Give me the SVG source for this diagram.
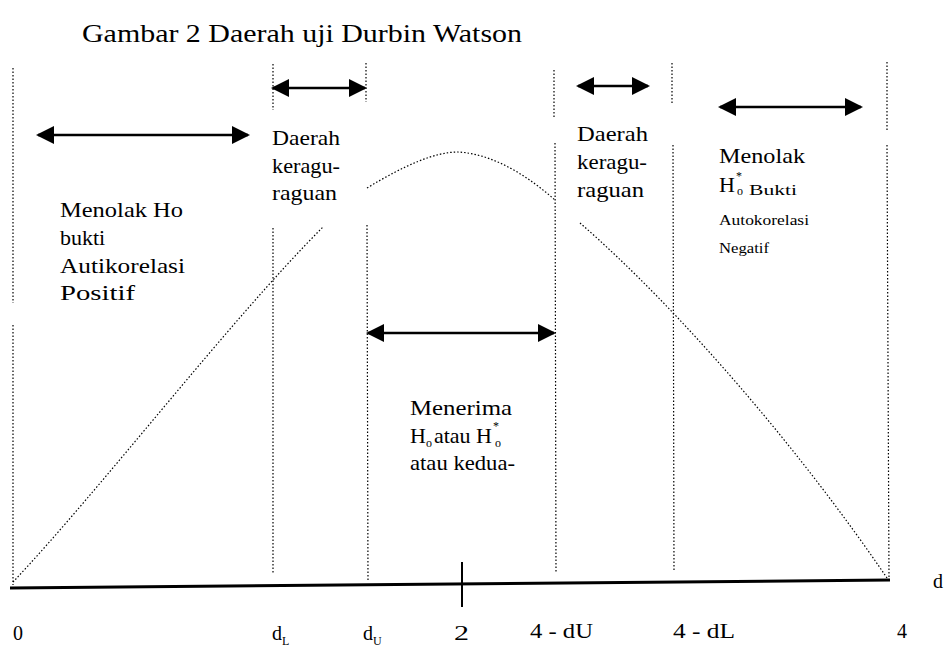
<svg xmlns="http://www.w3.org/2000/svg" width="945" height="647" viewBox="0 0 945 647" font-family="'Liberation Serif', 'DejaVu Serif', serif">
<style>
text{font-family:'Liberation Serif','DejaVu Serif',serif;fill:#000;font-size:22px}
.s{font-size:14px}
.sub{font-size:12px}
.ttl{font-size:26px}
.ax{font-size:20px}
.dot{fill:none;stroke:#000;stroke-width:1.2;stroke-dasharray:1.5 2}
.arr{stroke:#000;stroke-width:2.5;marker-start:url(#ah);marker-end:url(#ah)}
</style>
<defs>
<marker id="ah" viewBox="0 0 18 18" refX="16" refY="9" markerWidth="18" markerHeight="18" markerUnits="userSpaceOnUse" orient="auto-start-reverse">
<path d="M0,0 L18,9 L0,18 Z" fill="#000"/>
</marker>
</defs>
<rect width="945" height="647" fill="#fff"/>
<text id="title" class="ttl" x="82" y="42" textLength="440" lengthAdjust="spacingAndGlyphs">Gambar 2  Daerah uji Durbin Watson</text>

<g id="guides">
<line class="dot" x1="13" y1="68" x2="13" y2="303"/>
<line class="dot" x1="13" y1="325" x2="13" y2="585"/>
<line class="dot" x1="273" y1="64" x2="273" y2="110"/>
<line class="dot" x1="273" y1="228" x2="273" y2="574"/>
<line class="dot" x1="366" y1="63" x2="366" y2="102"/>
<line class="dot" x1="367" y1="225" x2="368" y2="582"/>
<line class="dot" x1="554" y1="70" x2="554" y2="117"/>
<line class="dot" x1="555" y1="143" x2="556" y2="573"/>
<line class="dot" x1="672" y1="63" x2="672" y2="105"/>
<line class="dot" x1="673" y1="145" x2="674" y2="572"/>
<line class="dot" x1="887" y1="62" x2="887" y2="130"/>
<line class="dot" x1="887" y1="145" x2="889" y2="578"/>
</g>

<g id="curve">
<path class="dot" d="M13,582 C100,490 230,320 323,227"/>
<path class="dot" d="M367,188 C405,165 435,152 458,152 C495,154 530,178 555,200"/>
<path class="dot" d="M580,223 C680,310 800,450 887,578"/>
</g>

<g id="axis">
<path d="M10,588 L890,580" stroke="#000" stroke-width="3" fill="none"/>
<line x1="462" y1="562" x2="462" y2="607" stroke="#000" stroke-width="2"/>
</g>

<g id="connectors">
<line class="arr" x1="38" y1="135" x2="248" y2="135"/>
<line class="arr" x1="273" y1="88" x2="365" y2="88"/>
<line class="arr" x1="578" y1="86" x2="648" y2="86"/>
<line class="arr" x1="720" y1="107" x2="861" y2="107"/>
<line class="arr" x1="368" y1="333" x2="554" y2="333"/>
</g>

<g id="reject-positive">
<text x="60" y="217" textLength="123" lengthAdjust="spacingAndGlyphs">Menolak Ho</text>
<text x="60" y="245">bukti</text>
<text x="60" y="273" textLength="125" lengthAdjust="spacingAndGlyphs">Autikorelasi</text>
<text x="60" y="300" textLength="75" lengthAdjust="spacingAndGlyphs">Positif</text>
</g>

<g id="doubt-left">
<text x="272" y="145" textLength="68" lengthAdjust="spacingAndGlyphs">Daerah</text>
<text x="272" y="173" textLength="68" lengthAdjust="spacingAndGlyphs">keragu-</text>
<text x="272" y="200" textLength="65" lengthAdjust="spacingAndGlyphs">raguan</text>
</g>

<g id="doubt-right">
<text x="577" y="141" textLength="71" lengthAdjust="spacingAndGlyphs">Daerah</text>
<text x="577" y="169" textLength="70" lengthAdjust="spacingAndGlyphs">keragu-</text>
<text x="577" y="197" textLength="67" lengthAdjust="spacingAndGlyphs">raguan</text>
</g>

<g id="accept">
<text x="410" y="415" textLength="102" lengthAdjust="spacingAndGlyphs">Menerima</text>
<text x="410" y="443">H<tspan font-size="12" dy="4">o</tspan><tspan dy="-4" dx="2">atau H</tspan><tspan font-size="12" dy="-13" dx="1">*</tspan><tspan font-size="12" dy="17" dx="-4">o</tspan></text>
<text x="410" y="470" textLength="105" lengthAdjust="spacingAndGlyphs">atau kedua-</text>
</g>

<g id="reject-negative">
<text x="719" y="163" textLength="86" lengthAdjust="spacingAndGlyphs">Menolak</text>
<text x="719" y="192">H<tspan font-size="12" dy="-12" dx="1">*</tspan><tspan font-size="12" dy="15" dx="-5">o</tspan></text>
<text class="s" x="749" y="195" textLength="48" lengthAdjust="spacingAndGlyphs">Bukti</text>
<text class="s" x="719" y="225" textLength="90" lengthAdjust="spacingAndGlyphs">Autokorelasi</text>
<text class="s" x="719" y="253" textLength="50" lengthAdjust="spacingAndGlyphs">Negatif</text>
</g>

<g id="axis-labels">
<text class="ax" x="13" y="640">0</text>
<text class="ax" x="272" y="640">d<tspan font-size="12" dy="5">L</tspan></text>
<text class="ax" x="363" y="640">d<tspan font-size="12" dy="5">U</tspan></text>
<text class="ax" x="454" y="640" textLength="15" lengthAdjust="spacingAndGlyphs">2</text>
<text class="ax" x="530" y="638" textLength="63" lengthAdjust="spacingAndGlyphs">4 - dU</text>
<text class="ax" x="673" y="638" textLength="62" lengthAdjust="spacingAndGlyphs">4 - dL</text>
<text class="ax" x="897" y="638">4</text>
<text class="ax" x="933" y="588">d</text>
</g>
</svg>
